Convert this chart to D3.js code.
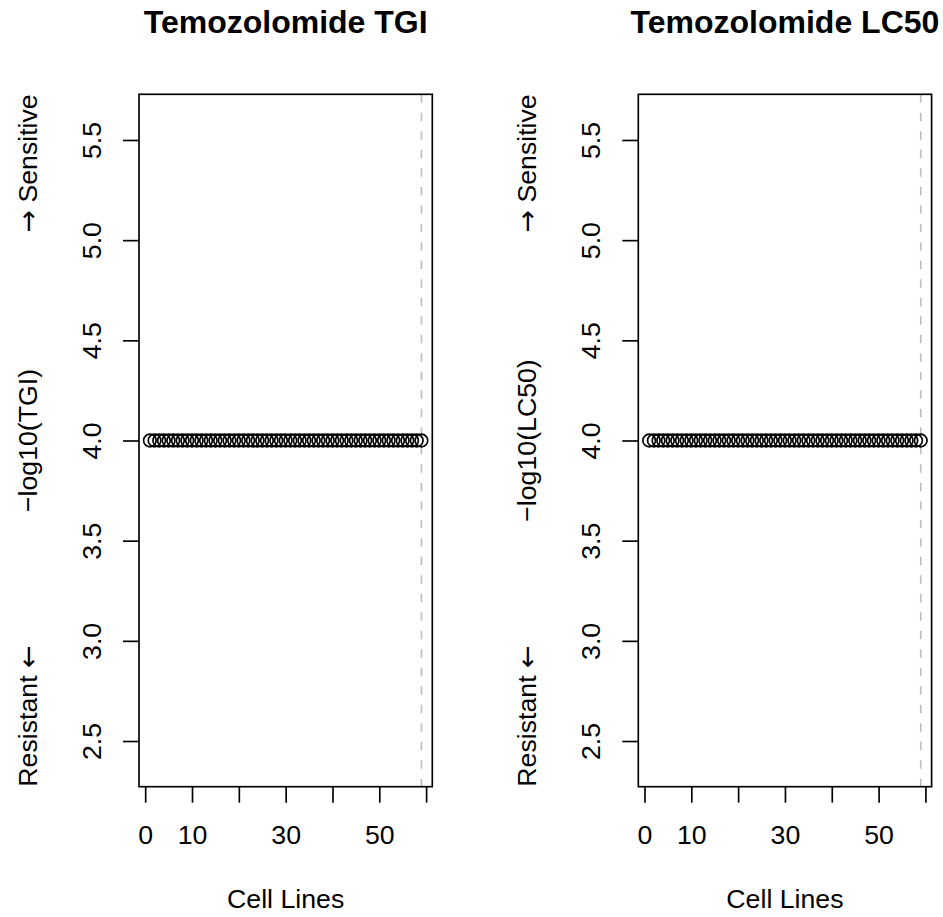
<!DOCTYPE html>
<html>
<head>
<meta charset="utf-8">
<script src="https://cdn.jsdelivr.net/npm/d3@7"></script>
<style>
  body { margin: 0; background: #ffffff; }
  svg { display: block; font-family: "Liberation Sans", Arial, Helvetica, sans-serif; }
</style>
</head>
<body>
<div id="wrapper"></div>
<script>
// Dados
const titles = ["Temozolomide TGI", "Temozolomide LC50"];
const yLabels = ["\u2212log10(TGI)", "\u2212log10(LC50)"];
const tgiValues = [
  4, 4, 4, 4, 4, 4, 4, 4, 4, 4, 4, 4, 4, 4, 4, 4, 4, 4, 4, 4,
  4, 4, 4, 4, 4, 4, 4, 4, 4, 4, 4, 4, 4, 4, 4, 4, 4, 4, 4, 4,
  4, 4, 4, 4, 4, 4, 4, 4, 4, 4, 4, 4, 4, 4, 4, 4, 4, 4, 4
];
const lc50Values = [
  4, 4, 4, 4, 4, 4, 4, 4, 4, 4, 4, 4, 4, 4, 4, 4, 4, 4, 4, 4,
  4, 4, 4, 4, 4, 4, 4, 4, 4, 4, 4, 4, 4, 4, 4, 4, 4, 4, 4, 4,
  4, 4, 4, 4, 4, 4, 4, 4, 4, 4, 4, 4, 4, 4, 4, 4, 4, 4, 4
];
const xTicks = [0, 10, 20, 30, 40, 50, 60];
const xTickLabels = ["0", "10", "", "30", "", "50", ""];
const yTicks = [2.5, 3.0, 3.5, 4.0, 4.5, 5.0, 5.5];
const yTickLabels = ["2.5", "3.0", "3.5", "4.0", "4.5", "5.0", "5.5"];
const yLimits = [2.4, 5.6];
const refLine = [59];
const xLabel = "Cell Lines";
// [seta, texto] para as notas do eixo y
const topNote = ["\u2192", " Sensitive"];
const bottomNote = ["Resistant ", "\u2190"];

const series = [tgiValues, lc50Values];

// R extends the range by 4% on each side
const extend = (lo, hi) => {
  const d = (hi - lo) * 0.04;
  return [lo - d, hi + d];
}

function draw() {
  const dimensions = {
    width: 943,
    height: 917,
    panelOffset: 499.3,
    margin: { top: 94.3, left: 139 },
    plotWidth: 293.3,
    plotHeight: 692.4,
    line: 32,
    font: 26.7
  };

  const wrapper = d3.select("#wrapper")
    .append("svg")
    .attr("width", dimensions.width)
    .attr("height", dimensions.height);

  series.forEach((values, p) => {
    const bounds = wrapper.append("g")
      .attr("transform", "translate(" + (dimensions.margin.left + p * dimensions.panelOffset) + ", " + dimensions.margin.top + ")");

    const points = values.map((v, i) => ({ index: i + 1, value: v }));

    const xScale = d3.scaleLinear()
      .domain(extend(1, values.length))
      .range([0, dimensions.plotWidth]);
    const yScale = d3.scaleLinear()
      .domain(extend(yLimits[0], yLimits[1]))
      .range([dimensions.plotHeight, 0]);

    const tick = dimensions.line * 0.5;

    // eixo x
    const xAxis = bounds.append("g")
      .attr("transform", "translate(0, " + dimensions.plotHeight + ")")
      .call(d3.axisBottom(xScale)
        .tickValues(xTicks)
        .tickFormat((d, i) => xTickLabels[i])
        .tickSize(tick)
        .tickSizeOuter(0));
    xAxis.select(".domain").remove();
    xAxis.selectAll(".tick line")
      .attr("stroke", "black")
      .attr("stroke-width", 1.67);
    xAxis.selectAll(".tick text")
      .attr("y", dimensions.line * 1.8)
      .attr("dy", 0)
      .attr("fill", "black")
      .attr("font-size", dimensions.font)
      .attr("font-family", null);

    // eixo y
    const yAxis = bounds.append("g")
      .call(d3.axisLeft(yScale)
        .tickValues(yTicks)
        .tickFormat((d, i) => yTickLabels[i])
        .tickSize(tick)
        .tickSizeOuter(0));
    yAxis.select(".domain").remove();
    yAxis.selectAll(".tick line")
      .attr("stroke", "black")
      .attr("stroke-width", 1.67);
    yAxis.selectAll(".tick text")
      .attr("x", null)
      .attr("dy", 0)
      .attr("text-anchor", "middle")
      .attr("transform", "translate(" + (-dimensions.line * 1.2) + ", 0) rotate(-90)")
      .attr("fill", "black")
      .attr("font-size", dimensions.font)
      .attr("font-family", null);

    // linha vertical tracejada
    bounds.append("g")
      .selectAll("line")
      .data(refLine)
      .enter()
      .append("line")
      .attr("x1", d => xScale(d))
      .attr("x2", d => xScale(d))
      .attr("y1", 0)
      .attr("y2", dimensions.plotHeight)
      .attr("stroke", "#bebebe")
      .attr("stroke-width", 1.67)
      .attr("stroke-dasharray", "8.5,10");

    // pontos
    bounds.append("g")
      .selectAll("circle")
      .data(points)
      .enter()
      .append("circle")
      .attr("cx", d => xScale(d.index))
      .attr("cy", d => yScale(d.value))
      .attr("r", 6.3)
      .attr("fill", "none")
      .attr("stroke", "black")
      .attr("stroke-width", 1.67);

    // caixa
    bounds.append("rect")
      .attr("x", 0)
      .attr("y", 0)
      .attr("width", dimensions.plotWidth)
      .attr("height", dimensions.plotHeight)
      .attr("fill", "none")
      .attr("stroke", "black")
      .attr("stroke-width", 1.67);

    // titulo
    bounds.append("text")
      .attr("x", dimensions.plotWidth / 2)
      .attr("y", 33 - dimensions.margin.top)
      .attr("text-anchor", "middle")
      .attr("font-size", 32)
      .attr("font-weight", "bold")
      .text(titles[p]);

    // rotulo do eixo x
    bounds.append("text")
      .attr("x", dimensions.plotWidth / 2)
      .attr("y", dimensions.plotHeight + dimensions.line * 3.8)
      .attr("text-anchor", "middle")
      .attr("font-size", dimensions.font)
      .text(xLabel);

    // rotulos do eixo y
    const yLabelX = -dimensions.line * 3.2;
    bounds.append("text")
      .attr("transform", "translate(" + yLabelX + ", " + (dimensions.plotHeight / 2) + ") rotate(-90)")
      .attr("text-anchor", "middle")
      .attr("font-size", dimensions.font)
      .text(yLabels[p]);

    const top = bounds.append("text")
      .attr("transform", "translate(" + yLabelX + ", 0) rotate(-90)")
      .attr("text-anchor", "end")
      .attr("font-size", dimensions.font);
    top.append("tspan").attr("font-family", "DejaVu Sans").text(topNote[0]);
    top.append("tspan").text(topNote[1]);

    const bottom = bounds.append("text")
      .attr("transform", "translate(" + yLabelX + ", " + dimensions.plotHeight + ") rotate(-90)")
      .attr("text-anchor", "start")
      .attr("font-size", dimensions.font);
    bottom.append("tspan").text(bottomNote[0]);
    bottom.append("tspan").attr("font-family", "DejaVu Sans").text(bottomNote[1]);
  });
}
draw();
</script>
</body>
</html>
